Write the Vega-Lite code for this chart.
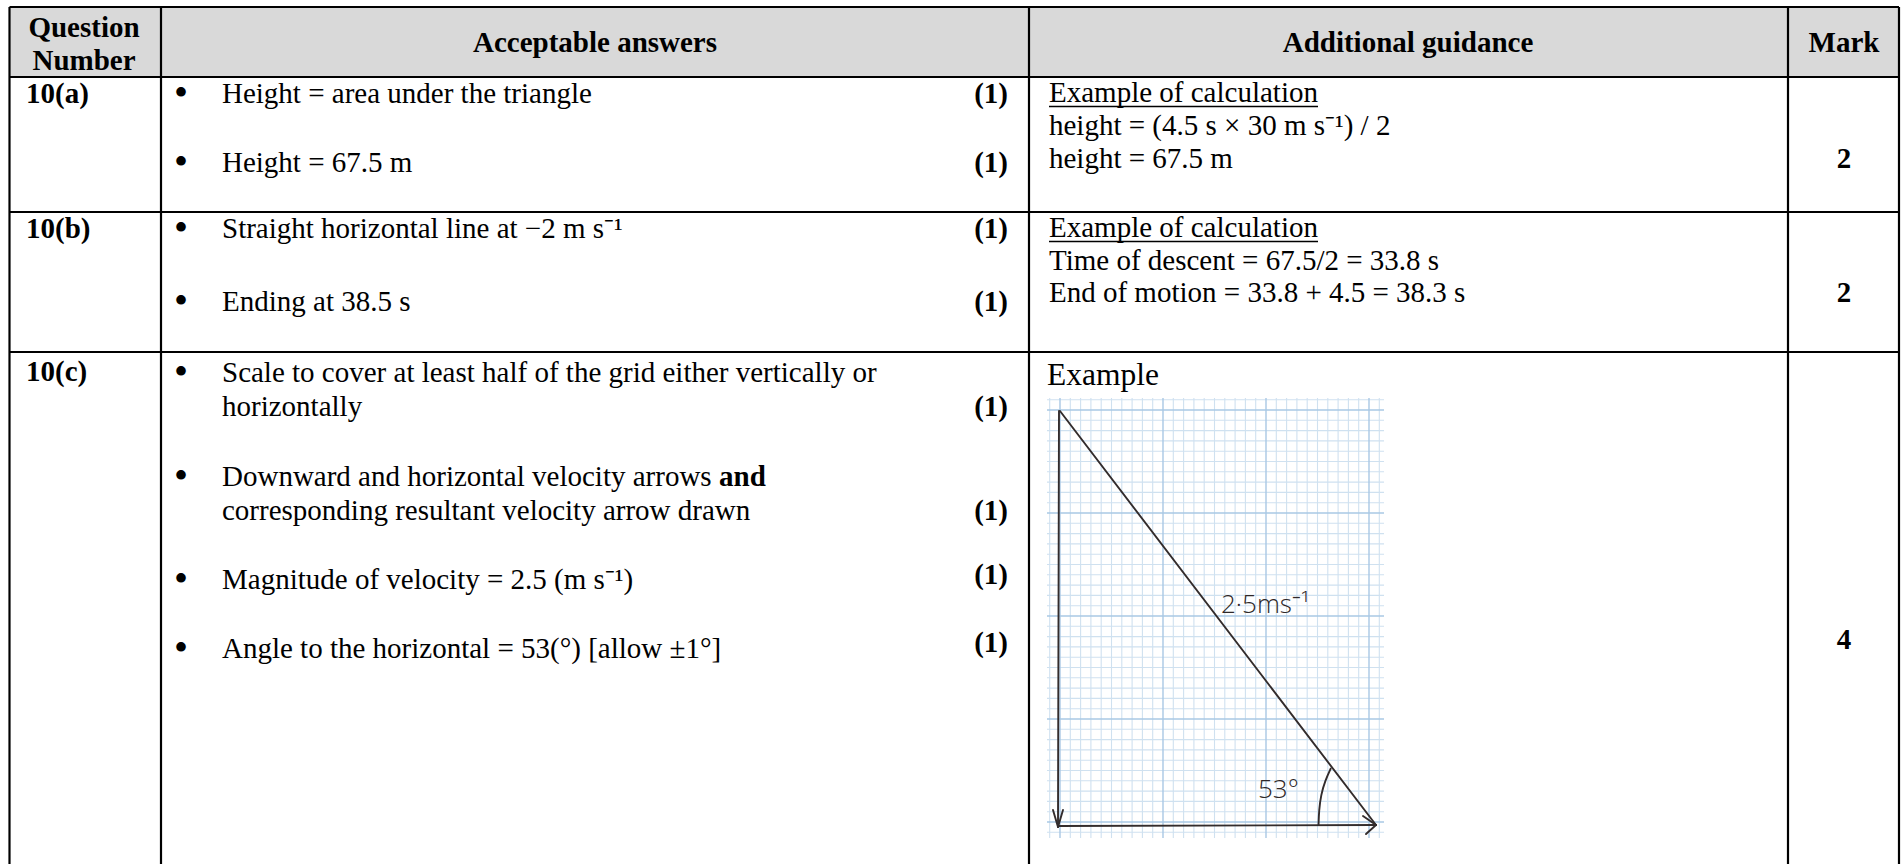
{
  "$schema": "https://vega.github.io/schema/vega-lite/v6.json",
  "width": 1903,
  "height": 864,
  "autosize": {"type": "none"},
  "padding": 0,
  "background": "white",
  "config": {
    "view": {"stroke": null},
    "text": {"font": "Liberation Serif", "fontSize": 29, "baseline": "alphabetic", "color": "#000000"}
  },
  "datasets": {
    "cells": [
      {"part": "header", "x": 9.5, "x2": 1899, "y": 7, "y2": 77}
    ],
    "vgrid": [
      {"x": 1049.7, "y": 398, "y2": 838, "m": 0},
      {"x": 1060.0, "y": 398, "y2": 838, "m": 1},
      {"x": 1070.3, "y": 398, "y2": 838, "m": 0},
      {"x": 1080.6, "y": 398, "y2": 838, "m": 0},
      {"x": 1090.9, "y": 398, "y2": 838, "m": 0},
      {"x": 1101.2, "y": 398, "y2": 838, "m": 0},
      {"x": 1111.5, "y": 398, "y2": 838, "m": 0},
      {"x": 1121.8, "y": 398, "y2": 838, "m": 0},
      {"x": 1132.1, "y": 398, "y2": 838, "m": 0},
      {"x": 1142.4, "y": 398, "y2": 838, "m": 0},
      {"x": 1152.7, "y": 398, "y2": 838, "m": 0},
      {"x": 1163.0, "y": 398, "y2": 838, "m": 1},
      {"x": 1173.3, "y": 398, "y2": 838, "m": 0},
      {"x": 1183.6, "y": 398, "y2": 838, "m": 0},
      {"x": 1193.9, "y": 398, "y2": 838, "m": 0},
      {"x": 1204.2, "y": 398, "y2": 838, "m": 0},
      {"x": 1214.5, "y": 398, "y2": 838, "m": 0},
      {"x": 1224.8, "y": 398, "y2": 838, "m": 0},
      {"x": 1235.1, "y": 398, "y2": 838, "m": 0},
      {"x": 1245.4, "y": 398, "y2": 838, "m": 0},
      {"x": 1255.7, "y": 398, "y2": 838, "m": 0},
      {"x": 1266.0, "y": 398, "y2": 838, "m": 1},
      {"x": 1276.3, "y": 398, "y2": 838, "m": 0},
      {"x": 1286.6, "y": 398, "y2": 838, "m": 0},
      {"x": 1296.9, "y": 398, "y2": 838, "m": 0},
      {"x": 1307.2, "y": 398, "y2": 838, "m": 0},
      {"x": 1317.5, "y": 398, "y2": 838, "m": 0},
      {"x": 1327.8, "y": 398, "y2": 838, "m": 0},
      {"x": 1338.1, "y": 398, "y2": 838, "m": 0},
      {"x": 1348.4, "y": 398, "y2": 838, "m": 0},
      {"x": 1358.7, "y": 398, "y2": 838, "m": 0},
      {"x": 1369.0, "y": 398, "y2": 838, "m": 1},
      {"x": 1379.3, "y": 398, "y2": 838, "m": 0}
    ],
    "hgrid": [
      {"y": 399.7, "x": 1047, "x2": 1384, "m": 0},
      {"y": 410.0, "x": 1047, "x2": 1384, "m": 1},
      {"y": 420.3, "x": 1047, "x2": 1384, "m": 0},
      {"y": 430.6, "x": 1047, "x2": 1384, "m": 0},
      {"y": 440.9, "x": 1047, "x2": 1384, "m": 0},
      {"y": 451.2, "x": 1047, "x2": 1384, "m": 0},
      {"y": 461.5, "x": 1047, "x2": 1384, "m": 0},
      {"y": 471.8, "x": 1047, "x2": 1384, "m": 0},
      {"y": 482.1, "x": 1047, "x2": 1384, "m": 0},
      {"y": 492.4, "x": 1047, "x2": 1384, "m": 0},
      {"y": 502.7, "x": 1047, "x2": 1384, "m": 0},
      {"y": 513.0, "x": 1047, "x2": 1384, "m": 1},
      {"y": 523.3, "x": 1047, "x2": 1384, "m": 0},
      {"y": 533.6, "x": 1047, "x2": 1384, "m": 0},
      {"y": 543.9, "x": 1047, "x2": 1384, "m": 0},
      {"y": 554.2, "x": 1047, "x2": 1384, "m": 0},
      {"y": 564.5, "x": 1047, "x2": 1384, "m": 0},
      {"y": 574.8, "x": 1047, "x2": 1384, "m": 0},
      {"y": 585.1, "x": 1047, "x2": 1384, "m": 0},
      {"y": 595.4, "x": 1047, "x2": 1384, "m": 0},
      {"y": 605.7, "x": 1047, "x2": 1384, "m": 0},
      {"y": 616.0, "x": 1047, "x2": 1384, "m": 1},
      {"y": 626.3, "x": 1047, "x2": 1384, "m": 0},
      {"y": 636.6, "x": 1047, "x2": 1384, "m": 0},
      {"y": 646.9, "x": 1047, "x2": 1384, "m": 0},
      {"y": 657.2, "x": 1047, "x2": 1384, "m": 0},
      {"y": 667.5, "x": 1047, "x2": 1384, "m": 0},
      {"y": 677.8, "x": 1047, "x2": 1384, "m": 0},
      {"y": 688.1, "x": 1047, "x2": 1384, "m": 0},
      {"y": 698.4, "x": 1047, "x2": 1384, "m": 0},
      {"y": 708.7, "x": 1047, "x2": 1384, "m": 0},
      {"y": 719.0, "x": 1047, "x2": 1384, "m": 1},
      {"y": 729.3, "x": 1047, "x2": 1384, "m": 0},
      {"y": 739.6, "x": 1047, "x2": 1384, "m": 0},
      {"y": 749.9, "x": 1047, "x2": 1384, "m": 0},
      {"y": 760.2, "x": 1047, "x2": 1384, "m": 0},
      {"y": 770.5, "x": 1047, "x2": 1384, "m": 0},
      {"y": 780.8, "x": 1047, "x2": 1384, "m": 0},
      {"y": 791.1, "x": 1047, "x2": 1384, "m": 0},
      {"y": 801.4, "x": 1047, "x2": 1384, "m": 0},
      {"y": 811.7, "x": 1047, "x2": 1384, "m": 0},
      {"y": 822.0, "x": 1047, "x2": 1384, "m": 1},
      {"y": 832.3, "x": 1047, "x2": 1384, "m": 0}
    ],
    "vectors": [
      {"name": "resultant 2.5 m/s", "x": 1060, "y": 411, "x2": 1376, "y2": 825},
      {"name": "downward 2 m/s", "x": 1059, "y": 411, "x2": 1058, "y2": 827},
      {"name": "horizontal 1.5 m/s", "x": 1058, "y": 826, "x2": 1376, "y2": 825},
      {"name": "down head L", "x": 1053, "y": 810, "x2": 1058, "y2": 827},
      {"name": "down head R", "x": 1063, "y": 810, "x2": 1058, "y2": 827},
      {"name": "right head U", "x": 1363, "y": 816, "x2": 1376, "y2": 825},
      {"name": "right head D", "x": 1366, "y": 834, "x2": 1376, "y2": 825}
    ],
    "arc": [
      {"o": 1, "x": 1331, "y": 768},
      {"o": 2, "x": 1325, "y": 781},
      {"o": 3, "x": 1321, "y": 795},
      {"o": 4, "x": 1319, "y": 810},
      {"o": 5, "x": 1318.5, "y": 826}
    ],
    "lines": [
      {"x": 9.5, "x2": 1899, "y": 7, "y2": 7},
      {"x": 9.5, "x2": 1899, "y": 77, "y2": 77},
      {"x": 9.5, "x2": 1899, "y": 212, "y2": 212},
      {"x": 9.5, "x2": 1899, "y": 352, "y2": 352},
      {"x": 9.5, "x2": 9.5, "y": 7, "y2": 864},
      {"x": 161, "x2": 161, "y": 7, "y2": 864},
      {"x": 1029, "x2": 1029, "y": 7, "y2": 864},
      {"x": 1788, "x2": 1788, "y": 7, "y2": 864},
      {"x": 1899, "x2": 1899, "y": 7, "y2": 864}
    ],
    "underlines": [
      {"x": 1049, "x2": 1318, "y": 106.5},
      {"x": 1049, "x2": 1318, "y": 241.5}
    ],
    "texts": [
      {"k": "head", "t": "Question", "x": 84, "y": 37},
      {"k": "head", "t": "Number", "x": 84, "y": 70},
      {"k": "head", "t": "Acceptable answers", "x": 595, "y": 52},
      {"k": "head", "t": "Additional guidance", "x": 1408, "y": 52},
      {"k": "head", "t": "Mark", "x": 1844, "y": 52},
      {"k": "qnum", "t": "10(a)", "x": 26, "y": 103},
      {"k": "qnum", "t": "10(b)", "x": 26, "y": 238},
      {"k": "qnum", "t": "10(c)", "x": 26, "y": 381},
      {"k": "bullet", "t": "•", "x": 181, "y": 103},
      {"k": "bullet", "t": "•", "x": 181, "y": 172},
      {"k": "bullet", "t": "•", "x": 181, "y": 238},
      {"k": "bullet", "t": "•", "x": 181, "y": 311},
      {"k": "bullet", "t": "•", "x": 181, "y": 382},
      {"k": "bullet", "t": "•", "x": 181, "y": 486},
      {"k": "bullet", "t": "•", "x": 181, "y": 589},
      {"k": "bullet", "t": "•", "x": 181, "y": 658},
      {"k": "body", "t": "Height = area under the triangle", "x": 222, "y": 103},
      {"k": "body", "t": "Height = 67.5 m", "x": 222, "y": 172},
      {"k": "body", "t": "Straight horizontal line at −2 m s⁻¹", "x": 222, "y": 238},
      {"k": "body", "t": "Ending at 38.5 s", "x": 222, "y": 311},
      {"k": "body", "t": "Scale to cover at least half of the grid either vertically or", "x": 222, "y": 382},
      {"k": "body", "t": "horizontally", "x": 222, "y": 416},
      {"k": "body", "t": "Downward and horizontal velocity arrows", "x": 222, "y": 486},
      {"k": "bodybold", "t": "and", "x": 719, "y": 486},
      {"k": "body", "t": "corresponding resultant velocity arrow drawn", "x": 222, "y": 520},
      {"k": "body", "t": "Magnitude of velocity = 2.5 (m s⁻¹)", "x": 222, "y": 589},
      {"k": "body", "t": "Angle to the horizontal = 53(°) [allow ±1°]", "x": 222, "y": 658},
      {"k": "one", "t": "(1)", "x": 1008, "y": 103},
      {"k": "one", "t": "(1)", "x": 1008, "y": 172},
      {"k": "one", "t": "(1)", "x": 1008, "y": 238},
      {"k": "one", "t": "(1)", "x": 1008, "y": 311},
      {"k": "one", "t": "(1)", "x": 1008, "y": 416},
      {"k": "one", "t": "(1)", "x": 1008, "y": 520},
      {"k": "one", "t": "(1)", "x": 1008, "y": 584},
      {"k": "one", "t": "(1)", "x": 1008, "y": 652},
      {"k": "body", "t": "Example of calculation", "x": 1049, "y": 102},
      {"k": "body", "t": "height = (4.5 s × 30 m s⁻¹) / 2", "x": 1049, "y": 135},
      {"k": "body", "t": "height = 67.5 m", "x": 1049, "y": 168},
      {"k": "body", "t": "Example of calculation", "x": 1049, "y": 237},
      {"k": "body", "t": "Time of descent = 67.5/2 = 33.8 s", "x": 1049, "y": 270},
      {"k": "body", "t": "End of motion = 33.8 + 4.5 = 38.3 s", "x": 1049, "y": 302},
      {"k": "example", "t": "Example", "x": 1047, "y": 385},
      {"k": "total", "t": "2", "x": 1844, "y": 168},
      {"k": "total", "t": "2", "x": 1844, "y": 302},
      {"k": "total", "t": "4", "x": 1844, "y": 649},
      {"k": "hand", "t": "2·5ms⁻¹", "x": 1221, "y": 613},
      {"k": "hand", "t": "53°", "x": 1258, "y": 798}
    ]
  },
  "encoding": {
    "x": {"field": "x", "type": "quantitative", "scale": {"domain": [0, 1903], "nice": false, "zero": false}, "axis": null},
    "y": {"field": "y", "type": "quantitative", "scale": {"domain": [0, 864], "nice": false, "zero": false, "reverse": true}, "axis": null}
  },
  "layer": [
    {
      "data": {"name": "cells"},
      "mark": {"type": "rect", "fill": "#d9d9d9"},
      "encoding": {"x2": {"field": "x2"}, "y2": {"field": "y2"}}
    },
    {
      "data": {"name": "vgrid"},
      "transform": [{"filter": "datum.m == 0"}],
      "mark": {"type": "rule", "stroke": "#cfe1f0", "strokeWidth": 1.1},
      "encoding": {"y2": {"field": "y2"}}
    },
    {
      "data": {"name": "hgrid"},
      "transform": [{"filter": "datum.m == 0"}],
      "mark": {"type": "rule", "stroke": "#cfe1f0", "strokeWidth": 1.1},
      "encoding": {"x2": {"field": "x2"}}
    },
    {
      "data": {"name": "vgrid"},
      "transform": [{"filter": "datum.m == 1"}],
      "mark": {"type": "rule", "stroke": "#a9c8e4", "strokeWidth": 1.4},
      "encoding": {"y2": {"field": "y2"}}
    },
    {
      "data": {"name": "hgrid"},
      "transform": [{"filter": "datum.m == 1"}],
      "mark": {"type": "rule", "stroke": "#a9c8e4", "strokeWidth": 1.4},
      "encoding": {"x2": {"field": "x2"}}
    },
    {
      "data": {"name": "vectors"},
      "mark": {"type": "rule", "stroke": "#332c2c", "strokeWidth": 1.9, "strokeCap": "round"},
      "encoding": {"x2": {"field": "x2"}, "y2": {"field": "y2"}}
    },
    {
      "data": {"name": "arc"},
      "mark": {"type": "line", "stroke": "#332c2c", "strokeWidth": 1.9, "interpolate": "basis"},
      "encoding": {"order": {"field": "o", "type": "quantitative"}}
    },
    {
      "data": {"name": "lines"},
      "mark": {"type": "rule", "stroke": "#000000", "strokeWidth": 2.2},
      "encoding": {"x2": {"field": "x2"}, "y2": {"field": "y2"}}
    },
    {
      "data": {"name": "underlines"},
      "mark": {"type": "rule", "stroke": "#000000", "strokeWidth": 1.4},
      "encoding": {"x2": {"field": "x2"}}
    },
    {
      "data": {"name": "texts"},
      "transform": [{"filter": "datum.k == 'head' || datum.k == 'total'"}],
      "mark": {"type": "text", "fontWeight": "bold", "align": "center"},
      "encoding": {"text": {"field": "t"}}
    },
    {
      "data": {"name": "texts"},
      "transform": [{"filter": "datum.k == 'qnum' || datum.k == 'bodybold'"}],
      "mark": {"type": "text", "fontWeight": "bold", "align": "left"},
      "encoding": {"text": {"field": "t"}}
    },
    {
      "data": {"name": "texts"},
      "transform": [{"filter": "datum.k == 'one'"}],
      "mark": {"type": "text", "fontWeight": "bold", "align": "right"},
      "encoding": {"text": {"field": "t"}}
    },
    {
      "data": {"name": "texts"},
      "transform": [{"filter": "datum.k == 'body'"}],
      "mark": {"type": "text", "align": "left"},
      "encoding": {"text": {"field": "t"}}
    },
    {
      "data": {"name": "texts"},
      "transform": [{"filter": "datum.k == 'example'"}],
      "mark": {"type": "text", "align": "left", "fontSize": 31.5},
      "encoding": {"text": {"field": "t"}}
    },
    {
      "data": {"name": "texts"},
      "transform": [{"filter": "datum.k == 'bullet'"}],
      "mark": {"type": "text", "align": "center", "fontSize": 40, "dy": 3},
      "encoding": {"text": {"field": "t"}}
    },
    {
      "data": {"name": "texts"},
      "transform": [{"filter": "datum.k == 'hand'"}],
      "mark": {"type": "text", "align": "left", "font": "Open Sans", "fontWeight": 300, "fontSize": 26, "color": "#2e2828"},
      "encoding": {"text": {"field": "t"}}
    }
  ]
}
